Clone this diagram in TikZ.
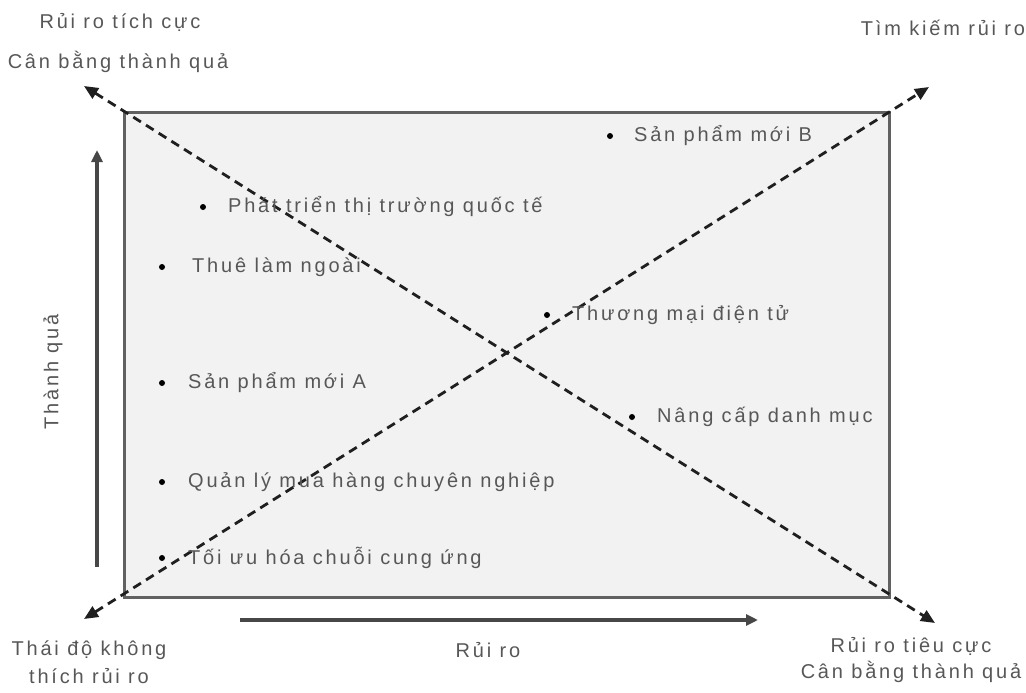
\documentclass[tikz,border=0pt]{standalone}
\usepackage{fontspec}
\setmainfont{Liberation Sans}[LetterSpace=14]
\usetikzlibrary{arrows.meta}
\begin{document}
\begin{tikzpicture}[x=1pt,y=-1pt,
  lbl/.style={text=black!66, font=\fontsize{20}{26}\selectfont, inner sep=0pt, align=center},
  item/.style={lbl, anchor=west},
  dot/.style={circle, fill=black, inner sep=0pt, minimum size=6pt},
  axisarrow/.style={draw=black!72, line width=3.5pt, -{Triangle[length=12pt,width=11pt]}},
  diag/.style={draw=black!88, line width=2.8pt, dash pattern=on 9pt off 6pt,
     {Triangle[length=14pt,width=12pt]}-{Triangle[length=14pt,width=12pt]}},
  box/.style={draw=black!62, fill=black!5, line width=3pt}]
\useasboundingbox (0,0) rectangle (1026,693);
% frame
\draw[box] (124,112) rectangle (889,597);
% diagonal end points
\coordinate (d1a) at (84,86);
\coordinate (d1b) at (935,623);
\coordinate (d2a) at (84,619);
\coordinate (d2b) at (929,87);
\draw[diag] (d1a) -- (d1b);
\draw[diag] (d2a) -- (d2b);
% axes
\coordinate (ya) at (97,567);
\coordinate (yb) at (97,150);
\coordinate (xa) at (240,620);
\coordinate (xb) at (758,620);
\draw[axisarrow] (ya) -- (yb);
\draw[axisarrow] (xa) -- (xb);
\node[lbl, rotate=90] (ylab) at (53,372) {Thành quả};
\node[lbl] (xlab) at (488,650) {Rủi ro};
% corner labels
\node[lbl] (tl1) at (120,22) {Rủi ro tích cực};
\node[lbl] (tl2) at (118,62) {Cân bằng thành quả};
\node[lbl] (tr) at (943,28) {Tìm kiếm rủi ro};
\node[lbl, font=\fontsize{20}{28}\selectfont] (bl) at (89,662) {Thái độ không\\thích rủi ro};
\node[lbl] (br) at (911,660) {Rủi ro tiêu cực\\Cân bằng thành quả};
% items
\node[dot] (b1) at (610,136) {};
\node[item] (t1) at (634,136) {Sản phẩm mới B};
\node[dot] (b2) at (203,207) {};
\node[item] (t2) at (228,207) {Phát triển thị trường quốc tế};
\node[dot] (b3) at (162,267) {};
\node[item] (t3) at (192,267) {Thuê làm ngoài};
\node[dot] (b4) at (547,315) {};
\node[item] (t4) at (572,315) {Thương mại điện tử};
\node[dot] (b5) at (632,417) {};
\node[item] (t5) at (657,417) {Nâng cấp danh mục};
\node[dot] (b6) at (162,383) {};
\node[item] (t6) at (188,383) {Sản phẩm mới A};
\node[dot] (b7) at (162,482) {};
\node[item] (t7) at (188,482) {Quản lý mua hàng chuyên nghiệp};
\node[dot] (b8) at (162,558) {};
\node[item] (t8) at (188,558) {Tối ưu hóa chuỗi cung ứng};
\end{tikzpicture}
\end{document}
